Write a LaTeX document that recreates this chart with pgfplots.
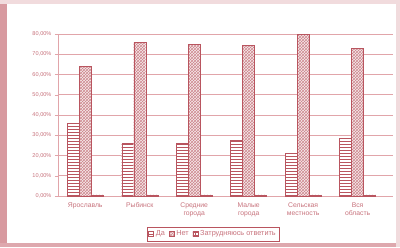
\documentclass[border=0pt]{standalone}
\usepackage{pgfplots}
\pgfplotsset{compat=1.18}
\usepackage{fontspec}
\setmainfont{Liberation Sans}
\usetikzlibrary{patterns}
\definecolor{main}{RGB}{185,85,95}
\definecolor{txt}{RGB}{200,115,125}
\definecolor{grd}{RGB}{225,165,170}
\definecolor{frm}{RGB}{200,110,120}
\begin{document}
\begin{tikzpicture}[x=1pt,y=1pt]
\path[fill=white] (0,0) rectangle (400,247);
\fill[frm!70] (0,0) rectangle (7,247);
\fill[frm!60] (0,0) rectangle (400,4);
\fill[frm!25] (0,243) rectangle (400,247);
\fill[frm!25] (396,0) rectangle (400,247);
\begin{axis}[
  at={(58pt,51pt)}, anchor=south west,
  scale only axis, width=335pt, height=162pt,
  ybar=0pt, bar width=12pt,
  xmin=-0.5, xmax=5.65, ymin=0, ymax=80,
  xtick=data,
  xticklabels={Ярославль, Рыбинск, {Средние\\города}, {Малые\\города}, {Сельская\\местность}, {Вся\\область}},
  xticklabel style={align=center, font=\fontsize{6.8}{8}\selectfont, text=txt},
  ytick={0,10,...,80},
  yticklabels={0{,}00\%,10{,}00\%,20{,}00\%,30{,}00\%,40{,}00\%,50{,}00\%,60{,}00\%,70{,}00\%,80{,}00\%},
  yticklabel style={font=\fontsize{5.6}{6.5}\selectfont, text=txt},
  ymajorgrids, grid style={grd, line width=0.7pt},
  axis x line*=bottom, axis y line*=left,
  axis line style={grd, line width=0.7pt},
  major tick length=3pt,
  ytick style={grd}, xtick style={draw=none},
  tick align=outside,
  legend columns=3,
  legend style={at={(0.463,-0.235)}, anchor=center, draw=main, line width=0.4pt,
     font=\fontsize{7.3}{8.5}\selectfont, text=txt, inner sep=1.5pt,
     /tikz/every even column/.append style={column sep=2pt}},
  legend image code/.code={\draw[#1] (0pt,-2.5pt) rectangle (5pt,2.5pt);},
]
\addplot[draw=main, fill=white, postaction={pattern=horizontal lines, pattern color=main}] coordinates {(0,36) (1,26) (2,26) (3,27.5) (4,21) (5,28.5)};
\addplot[draw=main, fill=main!12, postaction={pattern=crosshatch, pattern color=main!70}] coordinates {(0,64) (1,76) (2,75) (3,74.5) (4,80) (5,73)};
\addplot[draw=main, fill=white, postaction={pattern=grid, pattern color=main}] coordinates {(0,0.5) (1,0.5) (2,0.5) (3,0.5) (4,0.5) (5,0.5)};
\legend{Да, Нет, Затрудняюсь ответить}
\end{axis}
\end{tikzpicture}
\end{document}
